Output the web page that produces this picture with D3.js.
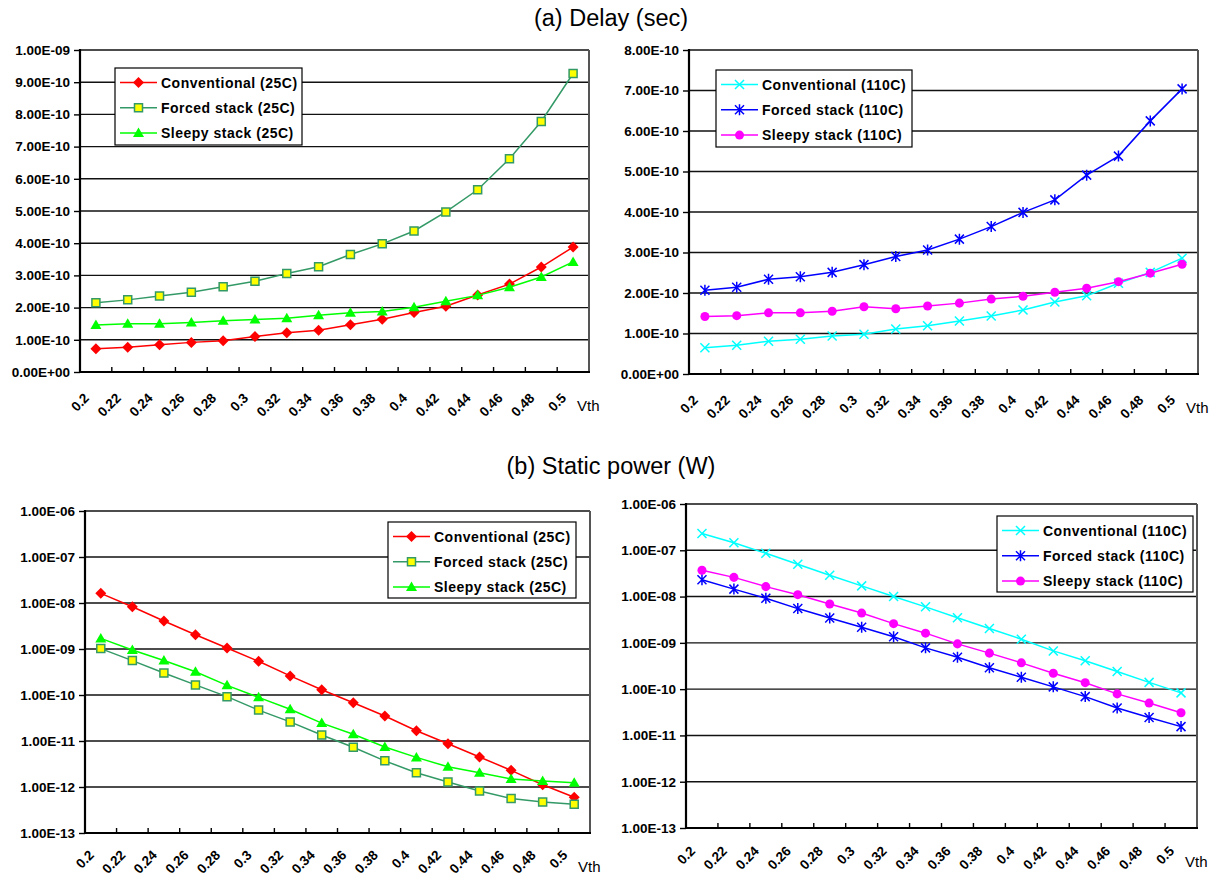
<!DOCTYPE html>
<html>
<head>
<meta charset="utf-8">
<script src="https://cdn.jsdelivr.net/npm/d3@7"></script>
<style>
  body { margin: 0; background: #fff; }
  svg text { font-family: "Liberation Sans", Arial, sans-serif; }
</style>
</head>
<body>
<div id="chart"></div>
<script>
// Etiquetas del eje X (Vth)
const vthLabels = ["0.2", "0.22", "0.24", "0.26", "0.28", "0.3", "0.32", "0.34",
  "0.36", "0.38", "0.4", "0.42", "0.44", "0.46", "0.48", "0.5"];

// (a) Retardo en segundos
const delayConv25 = [7.2e-11, 7.7e-11, 8.5e-11, 9.2e-11, 9.7e-11, 1.10e-10, 1.22e-10, 1.30e-10,
  1.47e-10, 1.64e-10, 1.85e-10, 2.04e-10, 2.39e-10, 2.73e-10, 3.26e-10, 3.88e-10];
const delayForced25 = [2.15e-10, 2.24e-10, 2.36e-10, 2.48e-10, 2.65e-10, 2.82e-10, 3.06e-10, 3.27e-10,
  3.65e-10, 3.98e-10, 4.38e-10, 4.97e-10, 5.66e-10, 6.62e-10, 7.78e-10, 9.27e-10];
const delaySleepy25 = [1.46e-10, 1.50e-10, 1.50e-10, 1.54e-10, 1.59e-10, 1.63e-10, 1.67e-10, 1.76e-10,
  1.84e-10, 1.88e-10, 2.01e-10, 2.20e-10, 2.38e-10, 2.63e-10, 2.95e-10, 3.42e-10];
const delayConv110 = [6.5e-11, 7.1e-11, 8.1e-11, 8.6e-11, 9.4e-11, 9.8e-11, 1.11e-10, 1.19e-10,
  1.31e-10, 1.43e-10, 1.58e-10, 1.78e-10, 1.93e-10, 2.24e-10, 2.51e-10, 2.86e-10];
const delayForced110 = [2.07e-10, 2.14e-10, 2.34e-10, 2.40e-10, 2.51e-10, 2.70e-10, 2.90e-10, 3.06e-10,
  3.33e-10, 3.64e-10, 3.99e-10, 4.30e-10, 4.91e-10, 5.38e-10, 6.25e-10, 7.04e-10];
const delaySleepy110 = [1.42e-10, 1.44e-10, 1.51e-10, 1.51e-10, 1.55e-10, 1.66e-10, 1.61e-10, 1.68e-10,
  1.75e-10, 1.85e-10, 1.92e-10, 2.02e-10, 2.12e-10, 2.28e-10, 2.49e-10, 2.71e-10];

// (b) Potencia estatica en vatios
const powerConv25 = [1.62e-8, 8.3e-9, 4.07e-9, 2.04e-9, 1.05e-9, 5.4e-10, 2.6e-10, 1.3e-10,
  6.8e-11, 3.5e-11, 1.67e-11, 8.7e-12, 4.5e-12, 2.3e-12, 1.12e-12, 6.0e-13];
const powerForced25 = [1.02e-9, 5.6e-10, 3.0e-10, 1.66e-10, 9.2e-11, 4.7e-11, 2.6e-11, 1.35e-11,
  7.3e-12, 3.7e-12, 2.04e-12, 1.29e-12, 8.2e-13, 5.6e-13, 4.7e-13, 4.2e-13];
const powerSleepy25 = [1.7e-9, 9.5e-10, 5.6e-10, 3.2e-10, 1.62e-10, 8.9e-11, 4.9e-11, 2.45e-11,
  1.4e-11, 7.4e-12, 4.4e-12, 2.75e-12, 2.04e-12, 1.5e-12, 1.35e-12, 1.23e-12];
const powerConv110 = [2.3e-7, 1.45e-7, 8.6e-8, 5.0e-8, 2.9e-8, 1.7e-8, 1.0e-8, 6.0e-9,
  3.5e-9, 2.05e-9, 1.2e-9, 6.7e-10, 4.1e-10, 2.4e-10, 1.4e-10, 8.3e-11];
const powerForced110 = [2.3e-8, 1.45e-8, 9.2e-9, 5.5e-9, 3.45e-9, 2.17e-9, 1.35e-9, 7.8e-10,
  4.9e-10, 2.9e-10, 1.8e-10, 1.12e-10, 6.9e-11, 3.9e-11, 2.45e-11, 1.55e-11];
const powerSleepy110 = [3.7e-8, 2.6e-8, 1.64e-8, 1.1e-8, 6.9e-9, 4.4e-9, 2.6e-9, 1.62e-9,
  9.5e-10, 6.0e-10, 3.7e-10, 2.2e-10, 1.38e-10, 7.9e-11, 5.0e-11, 3.1e-11];

// Valores de los ticks del eje Y
const delayTicks25 = d3.range(0, 11).map(i => i * 1e-10);
const delayTicks110 = d3.range(0, 9).map(i => i * 1e-10);
const powerTicks = d3.range(-13, -5).map(e => Math.pow(10, e));

// Nombres de las series
const names25 = ["Conventional (25C)", "Forced stack (25C)", "Sleepy stack (25C)"];
const names110 = ["Conventional (110C)", "Forced stack (110C)", "Sleepy stack (110C)"];

// Estilos de cada serie (color de linea, marcador, relleno)
const style25 = [
  { color: "#ff0000", marker: "diamond", fill: "#ff0000" },
  { color: "#339966", marker: "square", fill: "#ffff00" },
  { color: "#00ff00", marker: "triangle", fill: "#00ff00" }
];
const style110 = [
  { color: "#00ffff", marker: "x", fill: "none" },
  { color: "#0000ff", marker: "asterisk", fill: "none" },
  { color: "#ff00ff", marker: "circle", fill: "#ff00ff" }
];

const width = 1223;
const height = 876;

const svg = d3.select("#chart")
  .append("svg")
  .attr("width", width)
  .attr("height", height);

// Titulos de cada fila
svg.append("text")
  .attr("x", 611).attr("y", 26)
  .attr("text-anchor", "middle")
  .style("font-size", "23.5px")
  .text("(a) Delay (sec)");

svg.append("text")
  .attr("x", 611).attr("y", 474)
  .attr("text-anchor", "middle")
  .style("font-size", "23.5px")
  .text("(b) Static power (W)");

// Formato tipo Excel: 1.00E-09
function fmtSci(v) {
  if (v === 0) return "0.00E+00";
  const exp = Math.floor(Math.log10(v) + 1e-9);
  const mant = v / Math.pow(10, exp);
  return mant.toFixed(2) + "E" + (exp < 0 ? "-" : "+") + String(Math.abs(exp)).padStart(2, "0");
}

// Formas de los marcadores
function markerPath(type) {
  switch (type) {
    case "diamond": return "M0,-5.5L5.5,0L0,5.5L-5.5,0Z";
    case "square": return "M-4,-4H4V4H-4Z";
    case "triangle": return "M0,-5.5L5.5,4L-5.5,4Z";
    case "circle": return d3.symbol(d3.symbolCircle, 64)();
    case "x": return "M-4.5,-4.5L4.5,4.5M-4.5,4.5L4.5,-4.5";
    case "asterisk": return "M-4.5,-4.5L4.5,4.5M-4.5,4.5L4.5,-4.5M0,-5.5V5.5";
  }
}

function drawMarker(sel, st) {
  sel.append("path")
    .attr("d", markerPath(st.marker))
    .attr("fill", st.fill)
    .attr("stroke", st.marker === "square" || st.marker === "x" || st.marker === "asterisk" ? st.color : "none")
    .attr("stroke-width", 1.5);
}

// Configuracion de los cuatro paneles
const panels = [
  { left: 80, right: 589, top: 50, bottom: 372, log: false, domain: [0, 1e-9], ticks: delayTicks25,
    series: [delayConv25, delayForced25, delaySleepy25], names: names25, styles: style25,
    labelDy: 27, legend: { x: 115, y: 68, w: 187, h: 77 } },
  { left: 689, right: 1198, top: 50, bottom: 374, log: false, domain: [0, 8e-10], ticks: delayTicks110,
    series: [delayConv110, delayForced110, delaySleepy110], names: names110, styles: style110,
    labelDy: 27, legend: { x: 716, y: 70, w: 196, h: 77 } },
  { left: 85, right: 590, top: 511, bottom: 833, log: true, domain: [1e-13, 1e-6], ticks: powerTicks,
    series: [powerConv25, powerForced25, powerSleepy25], names: names25, styles: style25,
    labelDy: 23, legend: { x: 388, y: 522, w: 188, h: 76 } },
  { left: 686, right: 1197, top: 504, bottom: 828, log: true, domain: [1e-13, 1e-6], ticks: powerTicks,
    series: [powerConv110, powerForced110, powerSleepy110], names: names110, styles: style110,
    labelDy: 24, legend: { x: 997, y: 516, w: 196, h: 76 } }
];

panels.forEach(p => {
  const g = svg.append("g");

  // Escala de categorias para Vth
  const xScale = d3.scaleBand()
    .domain(vthLabels)
    .range([p.left, p.right])
    .padding(0);
  const cx = i => xScale(vthLabels[i]) + xScale.bandwidth() / 2;

  // Escala Y lineal o logaritmica
  const yScale = (p.log ? d3.scaleLog() : d3.scaleLinear())
    .domain(p.domain)
    .range([p.bottom, p.top]);

  // Lineas de la cuadricula
  g.append("g")
    .selectAll("line")
    .data(p.ticks)
    .enter()
    .append("line")
    .attr("x1", p.left).attr("x2", p.right)
    .attr("y1", d => yScale(d)).attr("y2", d => yScale(d))
    .attr("stroke", "#111")
    .attr("stroke-width", 1.4);

  // Borde derecho gris
  g.append("line")
    .attr("x1", p.right).attr("x2", p.right)
    .attr("y1", p.top).attr("y2", p.bottom)
    .attr("stroke", "#555")
    .attr("stroke-width", 2);

  // Eje Y
  const yAxis = d3.axisLeft(yScale)
    .tickValues(p.ticks)
    .tickFormat(fmtSci)
    .tickSize(6)
    .tickSizeOuter(0)
    .tickPadding(4);

  const yg = g.append("g")
    .attr("transform", `translate(${p.left},0)`)
    .call(yAxis)
    .attr("font-size", 13.5)
    .attr("font-weight", "bold")
    .attr("font-family", "'Liberation Sans', Arial, sans-serif");
  yg.select(".domain").remove();
  yg.selectAll(".tick line").attr("stroke", "#000").attr("stroke-width", 1.4);
  yg.selectAll("text")
    .attr("fill", "#000")
    .style("font-size", "13.5px")
    .style("font-weight", "bold");

  // Eje X con etiquetas rotadas
  const xAxis = d3.axisBottom(xScale).tickSize(0).tickSizeOuter(0);
  const xg = g.append("g")
    .attr("transform", `translate(0,${p.bottom})`)
    .call(xAxis)
    .attr("font-size", 13.5)
    .attr("font-weight", "bold")
    .attr("font-family", "'Liberation Sans', Arial, sans-serif");
  xg.select(".domain").remove();
  xg.selectAll("text")
    .attr("y", 0)
    .attr("dy", 0)
    .attr("x", 0)
    .attr("text-anchor", "end")
    .attr("transform", `translate(-6,${p.labelDy}) rotate(-45)`)
    .attr("fill", "#000")
    .style("font-size", "13.5px")
    .style("font-weight", "bold");

  // Marcas interiores entre categorias
  g.append("g")
    .selectAll("line")
    .data(vthLabels.slice(1))
    .enter()
    .append("line")
    .attr("x1", d => xScale(d)).attr("x2", d => xScale(d))
    .attr("y1", p.bottom).attr("y2", p.bottom - 5)
    .attr("stroke", "#000")
    .attr("stroke-width", 1.4);

  // Ejes izquierdo e inferior en negro grueso
  g.append("line")
    .attr("x1", p.left).attr("x2", p.left)
    .attr("y1", p.top - 1).attr("y2", p.bottom + 1)
    .attr("stroke", "#000").attr("stroke-width", 2.2);
  g.append("line")
    .attr("x1", p.left).attr("x2", p.right + 1)
    .attr("y1", p.bottom).attr("y2", p.bottom)
    .attr("stroke", "#000").attr("stroke-width", 2.2);

  // Etiqueta Vth
  g.append("text")
    .attr("x", p.right - 12)
    .attr("y", p.bottom + 39)
    .style("font-size", "15px")
    .text("Vth");

  // Lineas y marcadores de cada serie
  const line = d3.line()
    .x((d, i) => cx(i))
    .y(d => yScale(d));

  p.series.forEach((values, k) => {
    const st = p.styles[k];
    g.append("path")
      .datum(values)
      .attr("d", line)
      .attr("fill", "none")
      .attr("stroke", st.color)
      .attr("stroke-width", 1.5);

    g.append("g")
      .selectAll("g")
      .data(values)
      .enter()
      .append("g")
      .attr("transform", (d, i) => `translate(${cx(i)},${yScale(d)})`)
      .each(function() { drawMarker(d3.select(this), st); });
  });

  // Leyenda
  const lg = g.append("g").attr("transform", `translate(${p.legend.x},${p.legend.y})`);
  lg.append("rect")
    .attr("width", p.legend.w)
    .attr("height", p.legend.h)
    .attr("fill", "#fff")
    .attr("stroke", "#000")
    .attr("stroke-width", 1.2);

  p.names.forEach((name, k) => {
    const st = p.styles[k];
    const ry = 14.5 + k * 25.3;
    lg.append("line")
      .attr("x1", 5).attr("x2", 42)
      .attr("y1", ry).attr("y2", ry)
      .attr("stroke", st.color)
      .attr("stroke-width", 1.5);
    drawMarker(lg.append("g").attr("transform", `translate(23.5,${ry})`), st);
    lg.append("text")
      .attr("x", 46)
      .attr("y", ry)
      .attr("dy", "0.36em")
      .style("font-size", "14px")
      .style("font-weight", "bold")
      .style("letter-spacing", "0.5px")
      .text(name);
  });
});
</script>
</body>
</html>
